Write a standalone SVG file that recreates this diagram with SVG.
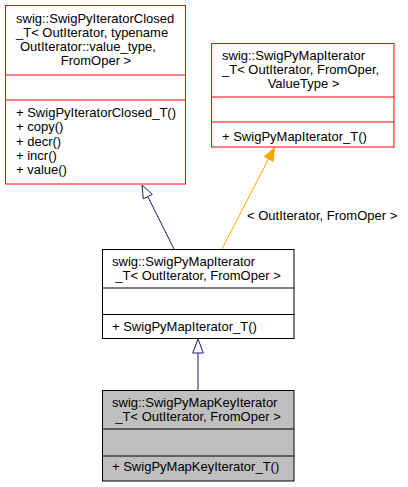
<svg xmlns="http://www.w3.org/2000/svg" width="408" height="487" viewBox="0 0 408 487">
<style>
text{font-family:"Liberation Sans",Arial,sans-serif;font-size:13px;fill:#000}
.c{text-anchor:middle}
.red rect,.red line{stroke:#ff0000}
.blk rect,.blk line{stroke:#000}
rect,line{stroke-width:1}
.nav{stroke:#191970;fill:none}
.org{stroke:#ffa500;fill:none}
</style>
<rect width="408" height="487" fill="#fff"/>
<g id="connectors">
<line class="nav" x1="174" y1="249" x2="147.8" y2="196.6"/>
<polygon points="142,185 152.3,194.4 143.3,198.8" fill="#fff" stroke="#191970"/>
<line class="org" x1="222" y1="249" x2="268.5" y2="159"/>
<polygon points="274.5,147.5 273.2,161.3 264.4,156.7" fill="#ffa500" stroke="#ffa500"/>
<text x="247" y="220">&lt; OutIterator, FromOper &gt;</text>
<line class="nav" x1="198" y1="390" x2="198" y2="353"/>
<polygon points="198,339 203.3,353 192.7,353" fill="#fff" stroke="#191970"/>
</g>
<g id="node1" class="red">
<rect x="5.5" y="5.5" width="180" height="178.5" fill="#fff"/>
<line x1="5.5" y1="75" x2="185.5" y2="75"/>
<line x1="5.5" y1="100" x2="185.5" y2="100"/>
<text x="16" y="22.7">swig::SwigPyIteratorClosed</text>
<text x="16" y="37">_T&lt; OutIterator, typename</text>
<text x="20" y="51.2">OutIterator::value_type,</text>
<text class="c" x="96" y="65.4">FromOper &gt;</text>
<text x="16" y="117">+ SwigPyIteratorClosed_T()</text>
<text x="16" y="131.3">+ copy()</text>
<text x="16" y="145.6">+ decr()</text>
<text x="16" y="160">+ incr()</text>
<text x="16" y="174.3">+ value()</text>
</g>
<g id="node2" class="red">
<rect x="211.5" y="43.5" width="182.5" height="103.5" fill="#fff"/>
<line x1="211.5" y1="97" x2="394" y2="97"/>
<line x1="211.5" y1="122" x2="394" y2="122"/>
<text x="222" y="60">swig::SwigPyMapIterator</text>
<text x="222" y="74">_T&lt; OutIterator, FromOper,</text>
<text class="c" x="303.5" y="88">ValueType &gt;</text>
<text x="222" y="140.5">+ SwigPyMapIterator_T()</text>
</g>
<g id="node3" class="blk">
<rect x="102.5" y="249.5" width="191.5" height="89" fill="#fff"/>
<line x1="102.5" y1="288" x2="294" y2="288"/>
<line x1="102.5" y1="314.5" x2="294" y2="314.5"/>
<text x="112" y="266">swig::SwigPyMapIterator</text>
<text class="c" x="198" y="280">_T&lt; OutIterator, FromOper &gt;</text>
<text x="112" y="331">+ SwigPyMapIterator_T()</text>
</g>
<g id="node4" class="blk">
<rect x="102.5" y="390.5" width="191.5" height="90.5" fill="#bfbfbf"/>
<line x1="102.5" y1="429" x2="294" y2="429"/>
<line x1="102.5" y1="456" x2="294" y2="456"/>
<text x="112" y="407">swig::SwigPyMapKeyIterator</text>
<text class="c" x="198" y="421">_T&lt; OutIterator, FromOper &gt;</text>
<text x="112" y="471">+ SwigPyMapKeyIterator_T()</text>
</g>
</svg>
